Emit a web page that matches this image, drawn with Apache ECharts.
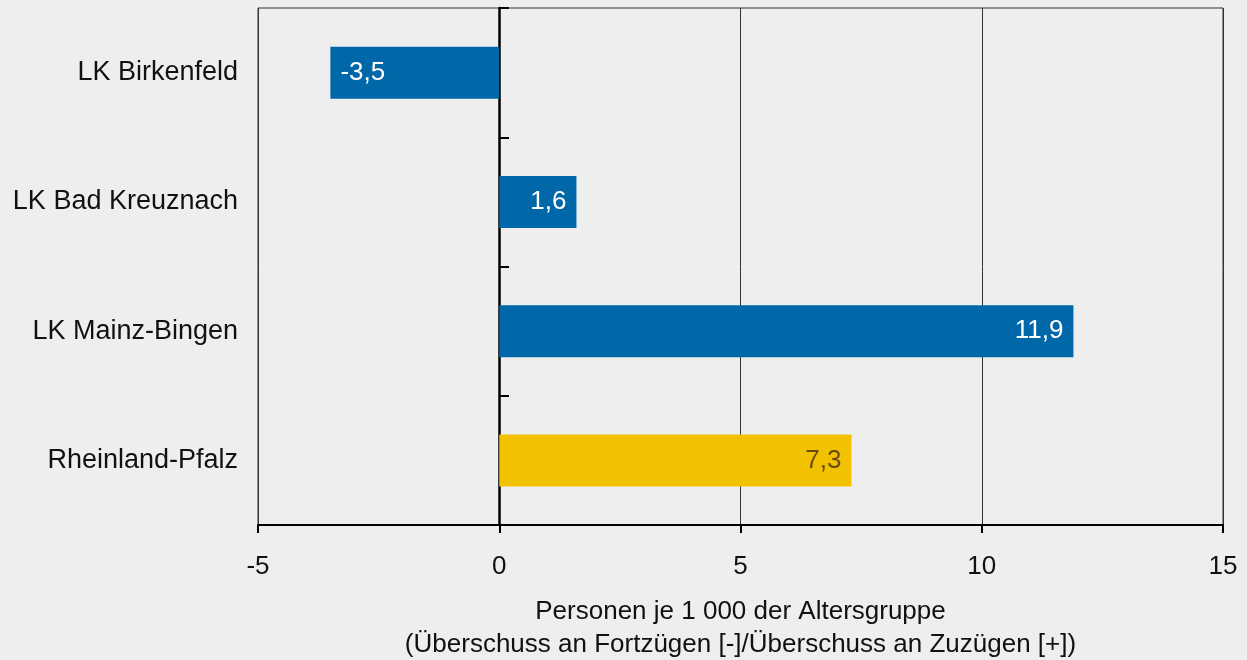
<!DOCTYPE html>
<html>
<head>
<meta charset="utf-8">
<script src="https://cdn.jsdelivr.net/npm/echarts@6/dist/echarts.min.js"></script>
<style>
  html, body { margin: 0; padding: 0; background: #edeeed; }
  #chart { width: 1247px; height: 660px; }
</style>
</head>
<body>
<div id="chart"></div>
<script>
// Wanderungssaldo je 1 000 der Altersgruppe
const regions = ['LK Birkenfeld', 'LK Bad Kreuznach', 'LK Mainz-Bingen', 'Rheinland-Pfalz'];
const saldo = [-3.5, 1.6, 11.9, 7.3];
const xTicks = [-5, 0, 5, 10, 15];

const font = 'Liberation Sans, Arial, sans-serif';
const fmt = v => v.toFixed(1).replace('.', ',');

// last bar is the state, drawn in yellow
const barData = saldo.map((v, i) => {
    const isState = i === regions.length - 1;
    return {
        value: v,
        itemStyle: { color: isState ? '#f2c200' : '#0068a8' },
        label: {
            position: v < 0 ? 'insideLeft' : 'insideRight',
            color: isState ? '#6b4a12' : '#ffffff'
        }
    };
});

const chart = echarts.init(document.getElementById('chart'));

chart.setOption({
    backgroundColor: '#edeeed',
    animation: false,
    textStyle: { fontFamily: font },
    grid: {
        left: 258, right: 24, top: 8, bottom: 135,
        outerBoundsMode: 'none',
        containLabel: false,
        show: true, borderColor: '#333', borderWidth: 1
    },
    xAxis: {
        type: 'value',
        min: xTicks[0],
        max: xTicks[xTicks.length - 1],
        interval: 5,
        name: 'Personen je 1 000 der Altersgruppe\n(Überschuss an Fortzügen [-]/Überschuss an Zuzügen [+])',
        nameLocation: 'middle',
        nameGap: 70,
        nameTextStyle: { fontSize: 26, color: '#111', lineHeight: 33, fontFamily: font },
        axisLine: { show: true, lineStyle: { color: '#000', width: 2 } },
        axisTick: { show: true, length: 8, lineStyle: { color: '#000', width: 2 } },
        axisLabel: { fontSize: 26, color: '#111', margin: 29, fontFamily: font },
        splitLine: { lineStyle: { color: '#333', width: 1 } }
    },
    yAxis: [{
        type: 'category',
        inverse: true,
        position: 'left',
        data: regions,
        axisLine: { show: false },
        axisTick: { show: false },
        axisLabel: { fontSize: 27, color: '#111', margin: 20, fontFamily: font }
    }, {
        // zero line with its ticks
        type: 'category',
        inverse: true,
        position: 'left',
        offset: -241,
        data: regions,
        axisLine: { show: true, lineStyle: { color: '#000', width: 2.5 } },
        axisTick: { show: true, inside: true, length: 10, lineStyle: { color: '#000', width: 2 } },
        axisLabel: { show: false },
        splitLine: { show: false }
    }],
    series: [{
        type: 'bar',
        yAxisIndex: 0,
        barWidth: 52,
        data: barData,
        label: {
            show: true,
            fontSize: 26,
            distance: 10,
            fontFamily: font,
            formatter: p => fmt(p.value)
        }
    }]
});
</script>
</body>
</html>
